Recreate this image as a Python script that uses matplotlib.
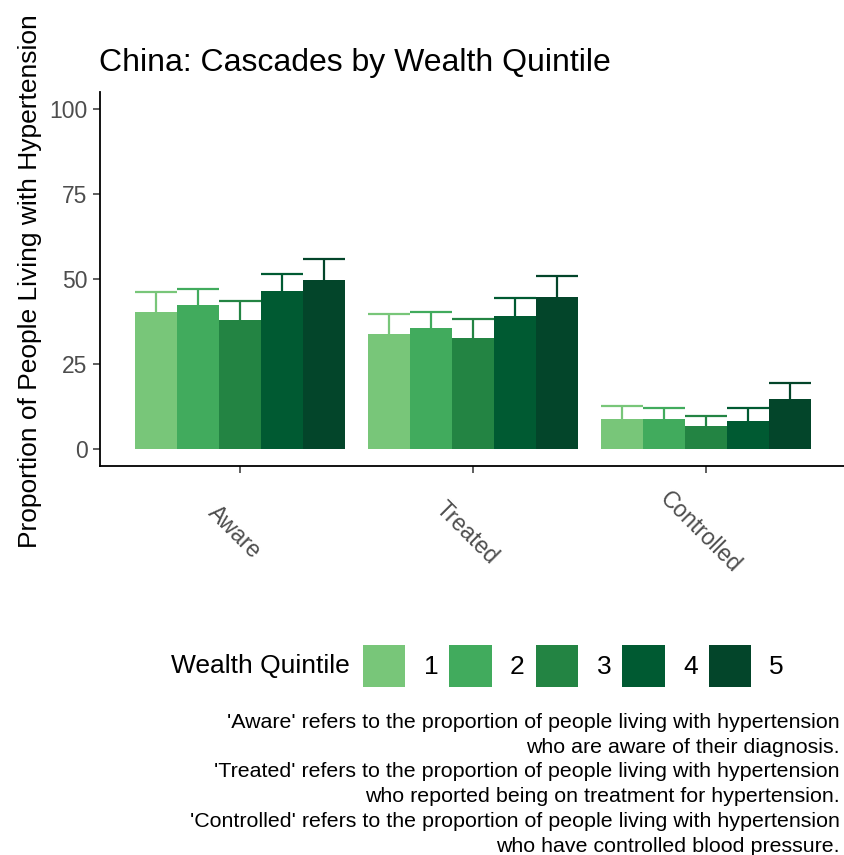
import numpy as np
import matplotlib
matplotlib.use("Agg")
import matplotlib.pyplot as plt
import matplotlib.transforms as mtransforms
from matplotlib.patches import Patch

plt.rcParams['font.family'] = ['Liberation Sans', 'DejaVu Sans']

# data
stages = ['Aware', 'Treated', 'Controlled']
quintiles = ['1', '2', '3', '4', '5']
colors = ['#78C679', '#41AB5D', '#238443', '#005A32', '#03452A']

# estimate per quintile (rows) for each stage (columns)
estimate = [
    [40.4, 33.9, 8.9],
    [42.4, 35.7, 8.9],
    [38.0, 32.7, 6.9],
    [46.6, 39.2, 8.3],
    [49.8, 44.8, 14.8],
]
upper = [
    [46.1, 39.7, 12.6],
    [47.1, 40.4, 12.1],
    [43.4, 38.1, 9.8],
    [51.6, 44.4, 12.1],
    [55.8, 50.9, 19.3],
]

caption = ("'Aware' refers to the proportion of people living with hypertension\n"
           "who are aware of their diagnosis.\n"
           "'Treated' refers to the proportion of people living with hypertension\n"
           "who reported being on treatment for hypertension.\n"
           "'Controlled' refers to the proportion of people living with hypertension\n"
           "who have controlled blood pressure.")

W, H = 845, 855
fig = plt.figure(figsize=(W / 100, H / 100), dpi=100)
ax = fig.add_axes([100 / W, 1 - 466 / H, 746 / W, (466 - 92) / H])

x = np.arange(1, len(stages) + 1)
bw = 0.9 / len(quintiles)
for i, q in enumerate(quintiles):
    xs = x + (i - 2) * bw
    est = np.array(estimate[i])
    hi = np.array(upper[i])
    lo = est - (hi - est)
    ax.vlines(xs, lo, hi, color=colors[i], lw=1.6, zorder=1)
    ax.hlines(hi, xs - bw / 2, xs + bw / 2, color=colors[i], lw=1.6, zorder=1)
    ax.hlines(lo, xs - bw / 2, xs + bw / 2, color=colors[i], lw=1.6, zorder=1)
    ax.bar(xs, est, width=bw, color=colors[i], zorder=2, label=q)

ax.set_xlim(0.4, 3.6)
ax.set_ylim(-5, 105)
ax.set_yticks([0, 25, 50, 75, 100])
ax.set_xticks(x)
ax.set_xticklabels(stages, rotation=-45, ha='center', va='center')
for s in ['top', 'right']:
    ax.spines[s].set_visible(False)
for s in ['left', 'bottom']:
    ax.spines[s].set_linewidth(1.3)
ax.tick_params(axis='both', colors='#333333', length=5, width=1.1, labelsize=16.5)
ax.tick_params(axis='y', labelcolor='#4D4D4D', pad=4)
ax.tick_params(axis='x', labelcolor='#4D4D4D', pad=43)
shift = mtransforms.ScaledTranslation(-6 / 100, 0, fig.dpi_scale_trans)
for lab in ax.get_xticklabels():
    lab.set_transform(lab.get_transform() + shift)

fig.text(99 / W, 1 - 71 / H, 'China: Cascades by Wealth Quintile', fontsize=23,
         ha='left', va='baseline')
fig.text(30 / W, 1 - 281 / H, 'Proportion of People Living with Hypertension',
         fontsize=19, rotation=90, ha='center', va='center')

# legend with title on the left
fig.text(350 / W, 1 - 666 / H, 'Wealth Quintile', fontsize=19, ha='right', va='center')
handles = [Patch(facecolor=c, edgecolor='none') for c in colors]
fig.legend(handles, quintiles, loc='center left', bbox_to_anchor=(363 / W, 1 - 666 / H),
           ncol=5, frameon=False, fontsize=19, handlelength=1.6, handleheight=2.05,
           handletextpad=0.7, columnspacing=0.42, borderaxespad=0, borderpad=0)

fig.text(840 / W, 1 - 713 / H, caption, fontsize=15.4, ha='right', va='top',
         multialignment='right', linespacing=1.38)

fig.savefig('out.png', dpi=100)
